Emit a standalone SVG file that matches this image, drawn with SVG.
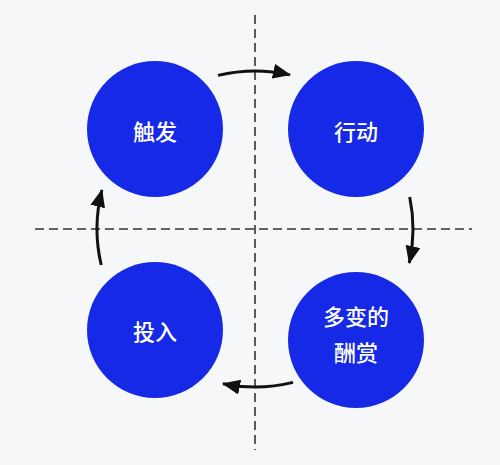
<svg xmlns="http://www.w3.org/2000/svg" width="500" height="465" viewBox="0 0 500 465">
  <style>
    .node { fill: #1529E6; }
    .label { fill: #ffffff; font-family: "Noto Sans CJK SC", "Noto Sans", sans-serif; font-size: 22px; font-weight: 500; text-anchor: middle; }
    .axis { stroke: #333333; stroke-width: 1.6; stroke-dasharray: 9 5; fill: none; }
    .arc { stroke: #111111; stroke-width: 3; fill: none; marker-end: url(#arrow); }
  </style>
  <defs>
    <marker id="arrow" markerUnits="userSpaceOnUse" viewBox="0 0 18 15" markerWidth="18" markerHeight="15" refX="17" refY="7.5" orient="auto">
      <path d="M0,0 L18,7.5 L0,15 Z" fill="#111111"/>
    </marker>
  </defs>
  <rect x="0" y="0" width="500" height="465" fill="#F6F7F9"/>
  <g id="axes">
    <line class="axis" x1="255" y1="15" x2="255" y2="450"/>
    <line class="axis" x1="35" y1="229" x2="472" y2="229"/>
  </g>
  <g id="node-trigger">
    <circle class="node" cx="155" cy="129" r="68"/>
    <text class="label" x="155" y="140">触发</text>
  </g>
  <g id="node-action">
    <circle class="node" cx="356" cy="129" r="68"/>
    <text class="label" x="356" y="140">行动</text>
  </g>
  <g id="node-investment">
    <circle class="node" cx="155" cy="330" r="68"/>
    <text class="label" x="155" y="340">投入</text>
  </g>
  <g id="node-reward">
    <circle class="node" cx="356" cy="340" r="68"/>
    <text class="label" x="356" y="325">多变的</text>
    <text class="label" x="356" y="361">酬赏</text>
  </g>
  <g id="connectors">
    <path class="arc" d="M218,75.4 A158,158 0 0 1 290,74.9"/>
    <path class="arc" d="M409.7,197 A158,158 0 0 1 409.3,263"/>
    <path class="arc" d="M293,382.4 A158,158 0 0 1 223,383.7"/>
    <path class="arc" d="M101.2,265 A158,158 0 0 1 101.9,190"/>
  </g>
</svg>
